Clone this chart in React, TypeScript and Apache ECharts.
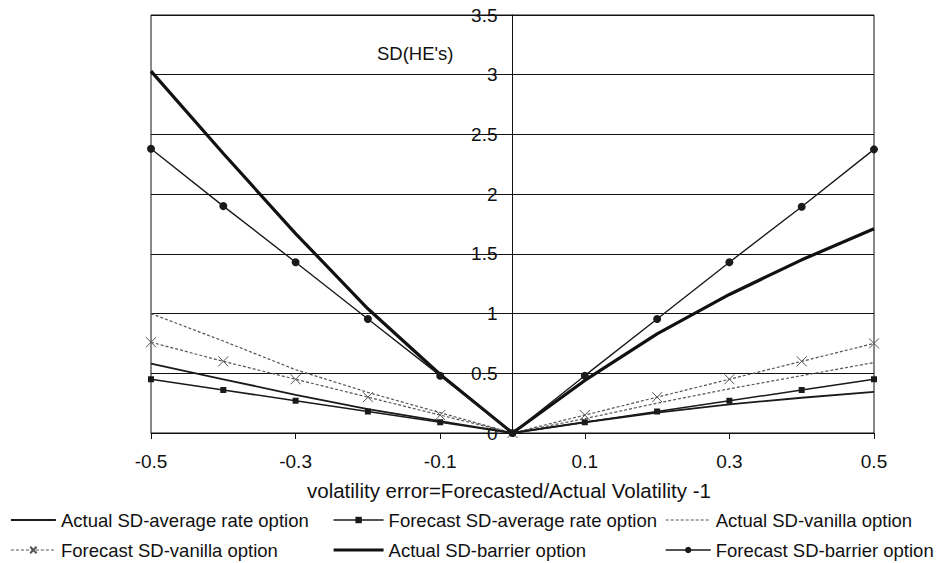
import React, { useEffect, useRef } from "react";
import * as echarts from "echarts";

const xVals = [-0.5, -0.4, -0.3, -0.2, -0.1, 0, 0.1, 0.2, 0.3, 0.4, 0.5];
const actualAvg = [0.58, 0.45, 0.32, 0.2, 0.1, 0, 0.09, 0.17, 0.24, 0.295, 0.345];
const forecastAvg = [0.45, 0.36, 0.27, 0.18, 0.09, 0, 0.09, 0.18, 0.27, 0.36, 0.45];
const actualVanilla = [1.0, 0.77, 0.53, 0.34, 0.17, 0, 0.12, 0.25, 0.37, 0.48, 0.59];
const forecastVanilla = [0.76, 0.6, 0.45, 0.3, 0.15, 0, 0.15, 0.3, 0.45, 0.6, 0.75];
const actualBarrier = [3.03, 2.34, 1.67, 1.04, 0.49, 0, 0.44, 0.83, 1.16, 1.45, 1.71];
const forecastBarrier = [2.38, 1.9, 1.43, 0.955, 0.48, 0, 0.48, 0.955, 1.43, 1.895, 2.375];
const xTickLabels = [-0.5, -0.3, -0.1, 0.1, 0.3, 0.5];

const seriesNames = [
  "Actual SD-average rate option",
  "Forecast SD-average rate option",
  "Actual SD-vanilla option",
  "Forecast SD-vanilla option",
  "Actual SD-barrier option",
  "Forecast SD-barrier option",
];
// series drawn without point markers
const plainLines = [seriesNames[0], seriesNames[2], seriesNames[4]];

const FONT = "'Liberation Sans', Arial, sans-serif";
const pair = (ys: number[]) => xVals.map((x, i) => [x, ys[i]]);

export default function App() {
  const ref = useRef<HTMLDivElement>(null);
  useEffect(() => {
    document.body.style.margin = "0";
    const chart = echarts.init(ref.current!, undefined, { renderer: "svg" });
    const legendText = { color: "#111", fontSize: 18.5, fontFamily: FONT, lineHeight: 20 };
    const legendItem = (n: string) =>
      plainLines.includes(n) ? { name: n, itemStyle: { opacity: 0 } } : { name: n };
    const mkLegend = (left: number, data: string[], itemWidth: number) => ({
      orient: "vertical",
      left,
      top: 510,
      itemWidth,
      itemHeight: 8,
      itemGap: 10,
      data: data.map(legendItem),
      textStyle: legendText,
      lineStyle: { width: "inherit" },
      selectedMode: false,
      padding: 0,
    });
    chart.setOption({
      animation: false,
      backgroundColor: "#fff",
      textStyle: { fontFamily: FONT },
      grid: {
        left: 151,
        right: 67,
        top: 15,
        bottom: 130,
        show: true,
        borderColor: "#111",
        borderWidth: 1,
      },
      legend: [
        mkLegend(10, [seriesNames[0], seriesNames[3]], 45),
        mkLegend(332, [seriesNames[1], seriesNames[4]], 50),
        mkLegend(665, [seriesNames[2], seriesNames[5]], 45),
      ],
      graphic: [
        {
          type: "text",
          left: 377,
          top: 44,
          style: { text: "SD(HE's)", fontSize: 18.5, fontFamily: FONT, fill: "#111" },
        },
        {
          type: "text",
          left: 307,
          top: 480,
          style: {
            text: "volatility error=Forecasted/Actual Volatility -1",
            fontSize: 20.5,
            fontFamily: FONT,
            fill: "#111",
          },
        },
      ],
      xAxis: {
        type: "value",
        min: -0.5,
        max: 0.5,
        axisLine: { show: true, onZero: true, lineStyle: { color: "#111", width: 1 } },
        axisTick: {
          show: true,
          customValues: xTickLabels,
          length: 6,
          lineStyle: { color: "#111" },
        },
        axisLabel: {
          customValues: xTickLabels,
          formatter: (v: number) => String(Math.round(v * 10) / 10),
          fontSize: 19,
          fontFamily: FONT,
          color: "#111",
          margin: 19,
        },
        splitLine: { show: false },
      },
      yAxis: {
        type: "value",
        min: 0,
        max: 3.5,
        interval: 0.5,
        offset: -361.5,
        axisLine: { show: true, onZero: false, lineStyle: { color: "#111", width: 1 } },
        axisTick: { show: false },
        axisLabel: {
          fontSize: 19,
          fontFamily: FONT,
          color: "#111",
          margin: 15,
        },
        splitLine: { show: true, lineStyle: { color: "#111", width: 1 } },
      },
      series: [
        {
          name: seriesNames[0],
          type: "line",
          data: pair(actualAvg),
          showSymbol: false,
          lineStyle: { color: "#1a1a1a", width: 1.8 },
          itemStyle: { color: "#1a1a1a" },
          z: 3,
        },
        {
          name: seriesNames[1],
          type: "line",
          data: pair(forecastAvg),
          symbol: "rect",
          symbolSize: 6,
          lineStyle: { color: "#1a1a1a", width: 1.5 },
          itemStyle: { color: "#1a1a1a" },
          z: 3,
        },
        {
          name: seriesNames[2],
          type: "line",
          data: pair(actualVanilla),
          showSymbol: false,
          lineStyle: { color: "#555", width: 1.2, type: [3, 2] },
          itemStyle: { color: "#555" },
          z: 2,
        },
        {
          name: seriesNames[3],
          type: "line",
          data: pair(forecastVanilla),
          symbol: "path://M0,0L10,10M10,0L0,10",
          symbolSize: 10,
          lineStyle: { color: "#555", width: 1.2, type: [3, 2] },
          itemStyle: { color: "#555", borderColor: "#555", borderWidth: 1 },
          z: 2,
        },
        {
          name: seriesNames[4],
          type: "line",
          data: pair(actualBarrier),
          showSymbol: false,
          lineStyle: { color: "#111", width: 3.2 },
          itemStyle: { color: "#111" },
          z: 4,
        },
        {
          name: seriesNames[5],
          type: "line",
          data: pair(forecastBarrier),
          symbol: "circle",
          symbolSize: 8,
          lineStyle: { color: "#1a1a1a", width: 1.4 },
          itemStyle: { color: "#1a1a1a" },
          z: 4,
        },
      ],
    });
    return () => chart.dispose();
  }, []);
  return <div ref={ref} style={{ width: 941, height: 563 }} />;
}
